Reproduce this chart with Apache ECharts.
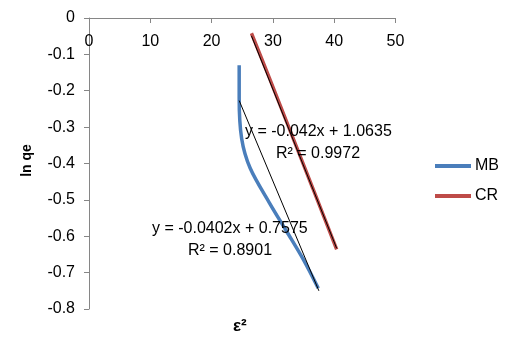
<!DOCTYPE html>
<html><head><meta charset="utf-8">
<script src="https://cdn.jsdelivr.net/npm/echarts@6/dist/echarts.min.js"></script>
<style>html,body{margin:0;padding:0;background:#fff}#c{width:507px;height:346px}</style>
</head><body><div id="c"></div>
<script>
// Data
const seriesNames = ['MB', 'CR'];
const mbData = [[24.5,-0.13],[24.5,-0.22],[24.9,-0.331],[26.3,-0.413],[29.5,-0.51],[32.25,-0.587],[35.0,-0.665],[37.4,-0.743]];
const crData = [[26.5,-0.042],[29.5,-0.168],[33.0,-0.318],[36.5,-0.468],[40.4,-0.636]];
const mbTrend = [[24.5,-0.227],[37.5,-0.75]];
const crTrend = [[26.5,-0.049],[40.4,-0.633]];
const mbEquation = ['y = -0.0402x + 0.7575', 'R² = 0.8901'];
const crEquation = ['y = -0.042x + 1.0635', 'R² = 0.9972'];
const xTicks = {min: 0, max: 50, interval: 10};
const yTicks = {min: -0.8, max: 0, interval: 0.1};
const xName = 'ε²';
const yName = 'ln qe';

const font = 'Liberation Sans, Arial, sans-serif';
const axisGrey = '#868686';
const chart = echarts.init(document.getElementById('c'), null, {renderer: 'canvas'});
const txt = (s, x, y, opts) => Object.assign({type: 'text', left: x, top: y, style: {text: s, font: '16px ' + font, fill: '#000'}}, opts || {});
chart.setOption({
  animation: false,
  backgroundColor: '#fff',
  grid: {left: 89, top: 18, width: 306.5, height: 291, containLabel: false},
  xAxis: {
    type: 'value', position: 'top', min: xTicks.min, max: xTicks.max, interval: xTicks.interval,
    axisLine: {show: true, onZero: false, lineStyle: {color: axisGrey, width: 1}},
    axisTick: {show: true, inside: true, length: 5, lineStyle: {color: axisGrey}},
    axisLabel: {inside: true, margin: 16, color: '#000', fontSize: 16, fontFamily: font},
    splitLine: {show: false}
  },
  yAxis: {
    type: 'value', min: yTicks.min, max: yTicks.max, interval: yTicks.interval,
    name: yName, nameLocation: 'middle', nameRotate: 90, nameGap: 55,
    nameTextStyle: {color: '#000', fontSize: 14, fontWeight: 'bold', fontFamily: font, padding: [0,0,0,6]},
    axisLine: {show: true, onZero: false, lineStyle: {color: axisGrey, width: 1}},
    axisTick: {show: true, inside: false, length: 5, lineStyle: {color: axisGrey}},
    axisLabel: {margin: 14, color: '#000', fontSize: 16, fontFamily: font,
      formatter: v => (Math.round(v * 10) / 10).toString()},
    splitLine: {show: false}
  },
  legend: {
    data: seriesNames, orient: 'vertical', left: 430, top: 153,
    itemWidth: 36, itemHeight: 4, itemGap: 14, icon: 'rect',
    textStyle: {fontSize: 16, fontFamily: font, color: '#000', padding: [0,0,0,-1]}
  },
  series: [
    {name: seriesNames[0], type: 'line', data: mbData, smooth: 0.3, showSymbol: false,
      lineStyle: {color: '#4A7EBB', width: 3.5}, itemStyle: {color: '#4A7EBB'}, z: 2},
    {name: seriesNames[1], type: 'line', data: crData, smooth: 0.3, showSymbol: false,
      lineStyle: {color: '#BE4B48', width: 3.5}, itemStyle: {color: '#BE4B48'}, z: 2},
    {name: 'MB trend', type: 'line', data: mbTrend, showSymbol: false, silent: true,
      lineStyle: {color: '#000', width: 1}, z: 3},
    {name: 'CR trend', type: 'line', data: crTrend, showSymbol: false, silent: true,
      lineStyle: {color: '#000', width: 1}, z: 3}
  ],
  graphic: [
    txt(crEquation[0], 245, 124, {z: 10}),
    txt(crEquation[1], 276, 146, {z: 10}),
    txt(mbEquation[0], 152, 221, {z: 10}),
    txt(mbEquation[1], 188, 243, {z: 10}),
    {type: 'text', left: 233, top: 318, style: {text: xName, font: 'bold 17px ' + font, fill: '#000'}}
  ]
});
</script></body></html>
